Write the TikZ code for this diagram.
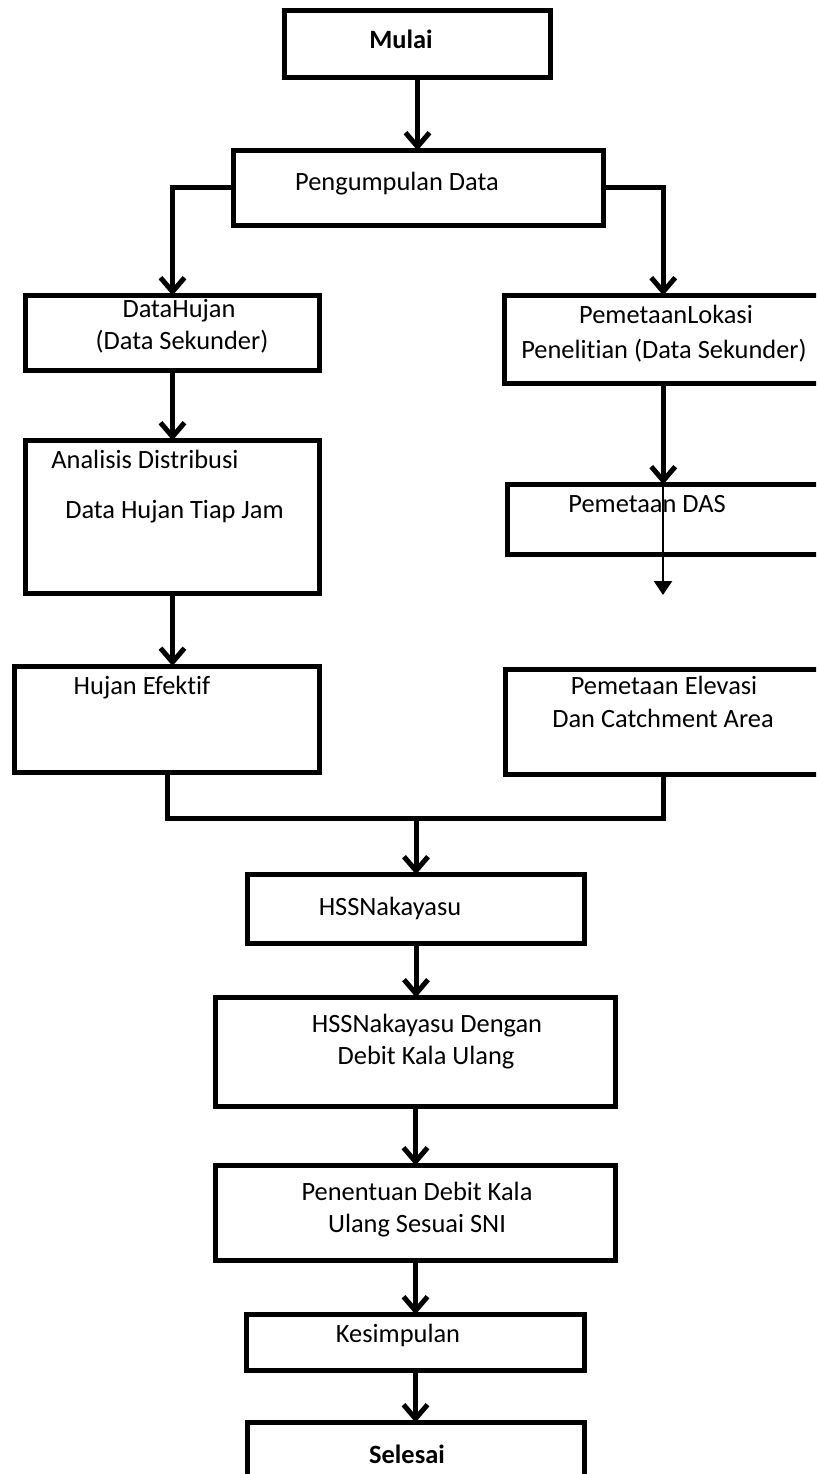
\documentclass[tikz,border=0pt]{standalone}
\usepackage{fontspec}
\setmainfont{Carlito}[Ligatures=NoCommon]
\usetikzlibrary{arrows.meta}
\begin{document}
\begin{tikzpicture}[x=1pt,y=-1pt,
  box/.style={draw, line width=5pt, rectangle, inner sep=0pt, outer sep=0pt},
  lbl/.style={font=\fontsize{26.4}{33}\selectfont, inner sep=0pt, anchor=base},
  bold/.style={font=\fontsize{26.4}{33}\selectfont\bfseries},
  flow/.style={line width=5pt, -{Straight Barb[length=14pt,width=24pt]}},
  thinflow/.style={line width=2.5pt, -{Triangle[length=14pt,width=18pt]}},
  link/.style={line width=5pt}]
\useasboundingbox (0,0) rectangle (816,1474);
\clip (0,0) rectangle (816,1474);
\fill[white] (0,0) rectangle (816,1474);

% boxes
\node[box, minimum width=266pt, minimum height=67pt] (mulai) at (417.5,44) {};
\node[box, minimum width=370pt, minimum height=75pt] (kumpul) at (418.5,188) {};
\node[box, minimum width=294pt, minimum height=75pt] (hujan) at (172.5,333) {};
\node[box, minimum width=294pt, minimum height=153pt] (analisis) at (172.5,517) {};
\node[box, minimum width=305pt, minimum height=106pt] (efektif) at (167,719) {};
\node[box, minimum width=317.5pt, minimum height=88pt] (lokasi) at (663.25,339.5) {};
\node[box, minimum width=314.5pt, minimum height=70pt] (das) at (664.75,519.5) {};
\node[box, minimum width=316.5pt, minimum height=105pt] (elevasi) at (663.75,722) {};
\node[box, minimum width=337pt, minimum height=69pt] (hss) at (416,909) {};
\node[box, minimum width=400pt, minimum height=109pt] (hssdebit) at (415.5,1052) {};
\node[box, minimum width=400pt, minimum height=95pt] (penentuan) at (415.5,1213) {};
\node[box, minimum width=338pt, minimum height=56pt] (simpul) at (415.5,1342.5) {};
\node[box, minimum width=337pt, minimum height=67.5pt] (selesai) at (416,1456.25) {};

% texts
\node[lbl, bold] (t-mulai) at (401,49) {Mulai};
\node[lbl] (t-kumpul) at (397,191) {Pengumpulan Data};
\node[lbl] (t-hujan1) at (179,317) {DataHujan};
\node[lbl] (t-hujan2) at (182,349) {(Data Sekunder)};
\node[lbl] (t-anal1) at (145,468) {Analisis Distribusi};
\node[lbl] (t-anal2) at (174.5,518) {Data Hujan Tiap Jam};
\node[lbl] (t-efektif) at (142,694) {Hujan Efektif};
\node[lbl] (t-lok1) at (666,323) {PemetaanLokasi};
\node[lbl] (t-lok2) at (664,358) {Penelitian (Data Sekunder)};
\node[lbl] (t-das) at (647,512) {Pemetaan DAS};
\node[lbl] (t-elev1) at (664,694) {Pemetaan Elevasi};
\node[lbl] (t-elev2) at (663,727) {Dan Catchment Area};
\node[lbl] (t-hss) at (390,915) {HSSNakayasu};
\node[lbl] (t-hssd1) at (427,1032) {HSSNakayasu Dengan};
\node[lbl] (t-hssd2) at (426,1064) {Debit Kala Ulang};
\node[lbl] (t-pen1) at (417,1200) {Penentuan Debit Kala};
\node[lbl] (t-pen2) at (417,1232) {Ulang Sesuai SNI};
\node[lbl] (t-simpul) at (398,1342) {Kesimpulan};
\node[lbl, bold] (t-selesai) at (407,1463) {Selesai};

% connectors
\draw[flow] (mulai.south) -- (mulai.south |- kumpul.north);
\draw[flow] (kumpul.west) -| (hujan.north);
\draw[flow] (kumpul.east) -| (lokasi.north);
\draw[flow] (hujan.south) -- (analisis.north);
\draw[flow] (analisis.south) -- (analisis.south |- efektif.north);
\draw[flow] (lokasi.south) -- (lokasi.south |- das.north);
\coordinate (dasend) at (663,595);
\draw[thinflow] (das.north -| dasend) -- (dasend);

\coordinate (joinmid) at (416,818);
\draw[link] (efektif.south) |- (joinmid) -| (elevasi.south);
\draw[flow] (joinmid) -- (hss.north);
\draw[flow] (hss.south) -- (hss.south |- hssdebit.north);
\draw[flow] (hssdebit.south) -- (hssdebit.south |- penentuan.north);
\draw[flow] (penentuan.south) -- (penentuan.south |- simpul.north);
\draw[flow] (simpul.south) -- (simpul.south |- selesai.north);
\end{tikzpicture}
\end{document}
